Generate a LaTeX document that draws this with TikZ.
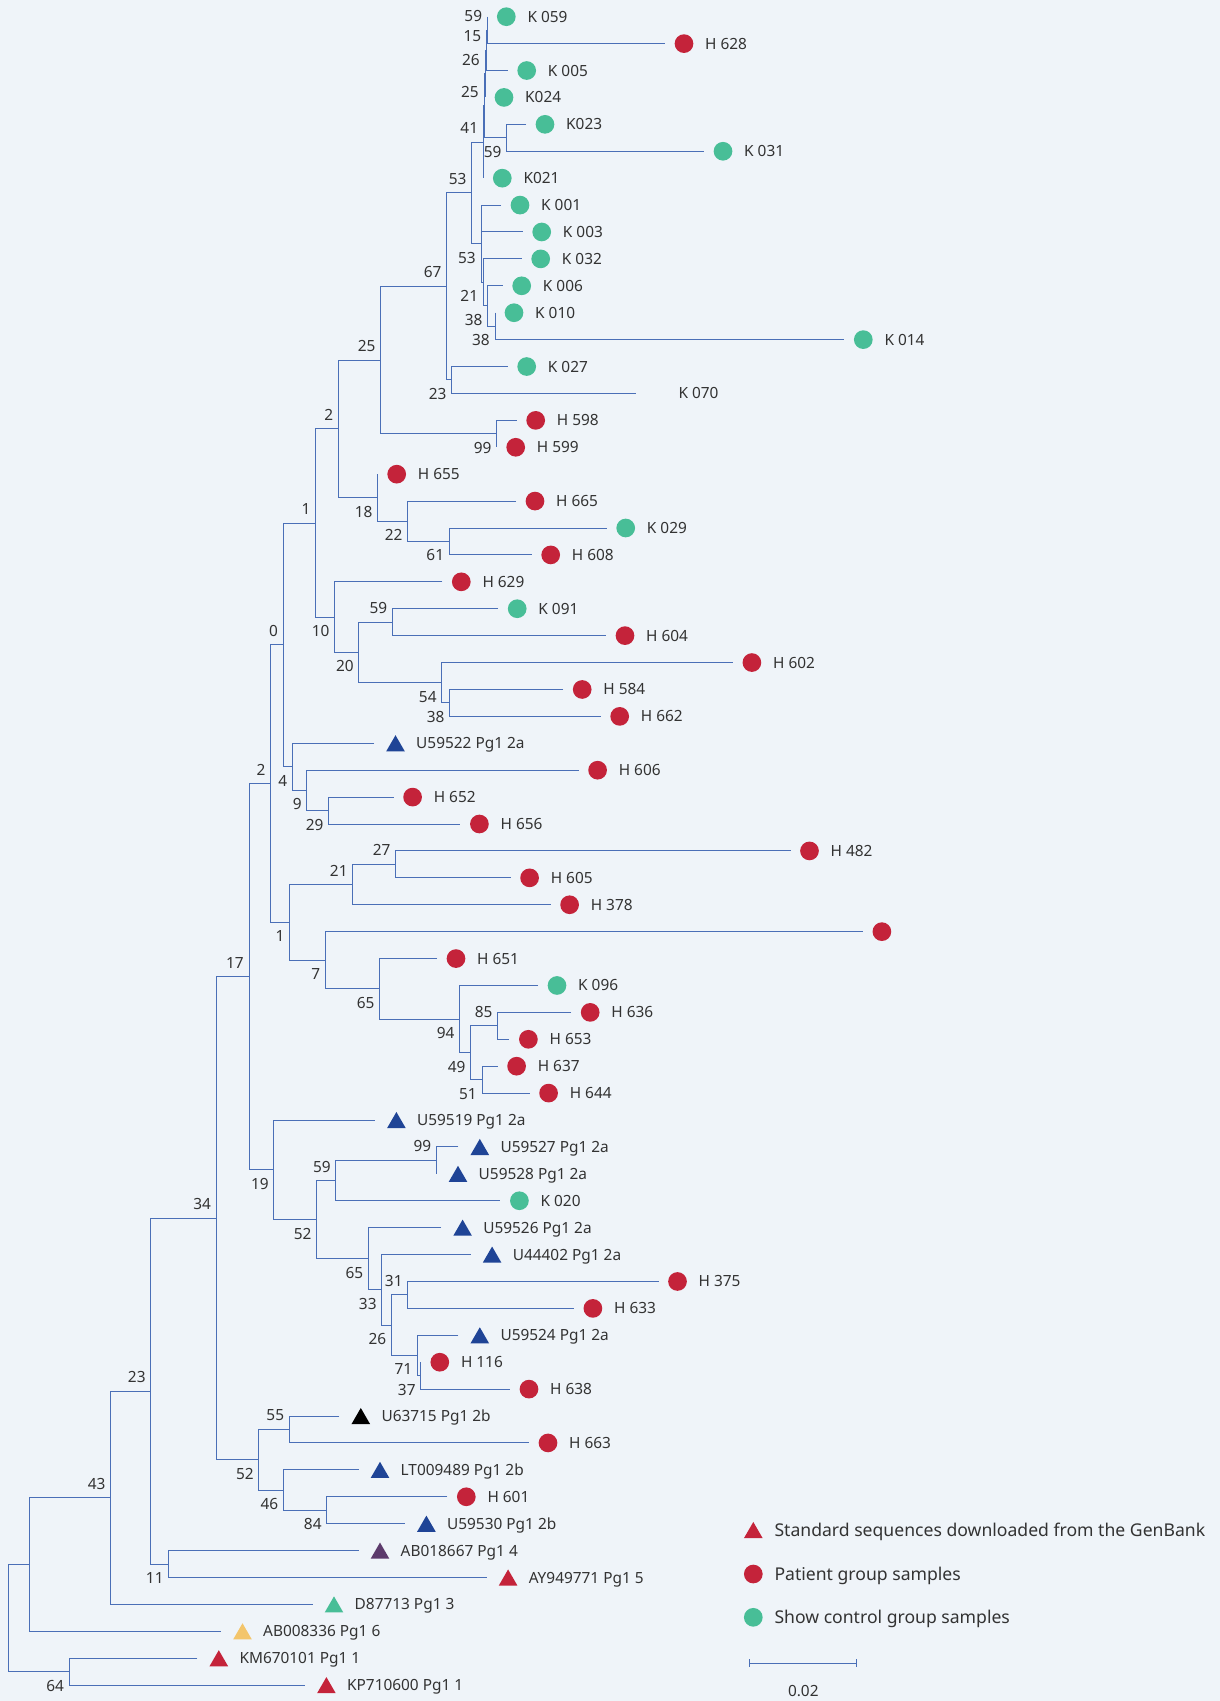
\documentclass[tikz,border=0pt]{standalone}
\usepackage{fontspec}
\setmainfont{Noto Sans}
\usetikzlibrary{calc,shapes.geometric}
\definecolor{bgc}{HTML}{EFF4F9}
\definecolor{brc}{HTML}{4A6FB7}
\definecolor{redc}{HTML}{C4233A}
\definecolor{grnc}{HTML}{48BE97}
\definecolor{bluc}{HTML}{1F4496}
\definecolor{purc}{HTML}{5C3A6C}
\definecolor{yelc}{HTML}{F3C56B}
\definecolor{txtc}{HTML}{333333}
\tikzset{
  br/.style={draw=brc, line width=1pt},
  mkcb/.style={circle, fill=#1, minimum size=18.7pt, inner sep=0pt},
  mktb/.style={regular polygon, regular polygon sides=3, fill=#1, minimum size=21.5pt, inner sep=0pt, yshift=-2.7pt},
  mkc/.style={mkcb=#1, xshift=19pt},
  mkt/.style={mktb=#1, xshift=21.5pt},
  lab/.style={anchor=west, inner sep=0pt, text=txtc, font=\fontsize{15.4pt}{18pt}\selectfont, text height=11pt, text depth=0pt},
  bs/.style={anchor=east, inner sep=0pt, text=txtc, font=\fontsize{15.4pt}{18pt}\selectfont, text height=11pt, text depth=0pt},
  leg/.style={anchor=west, inner sep=0pt, text=txtc, font=\fontsize{17.6pt}{21pt}\selectfont, text height=12.6pt, text depth=0pt},
}
\newcommand\leafC[5]{%
  \coordinate (#1) at (#2,{16.7+26.91*#3});
  \node[mkc=#4] (#1m) at (#1) {};
  \node[lab] (#1t) at ([xshift=40pt]#1) {#5};}
\newcommand\leafT[5]{%
  \coordinate (#1) at (#2,{16.7+26.91*#3});
  \node[mkt=#4] (#1m) at (#1) {};
  \node[lab] (#1t) at ([xshift=42pt]#1) {#5};}
\newcommand\inodeX[4]{%
  \path let \p1=($(#3)!0.5!(#4)$) in coordinate (#1) at (#2pt,\y1);
  \draw[br] (#3) -- (#3 -| #1) -- (#4 -| #1) -- (#4);}
\newcommand\inode[6]{%
  \inodeX{#1}{#2}{#3}{#4}
  \node[bs] (#1b) at ([shift={(-5pt,#6pt)}]#1) {#5};}
\begin{document}
\begin{tikzpicture}[x=1pt,y=-1pt]
\fill[bgc] (0,0) rectangle (1220,1701);
\useasboundingbox (0,0) rectangle (1220,1701);
% leaves
\leafC{L0}{487.3}{0}{grnc}{K 059}
\leafC{L1}{665}{1}{redc}{H 628}
\leafC{L2}{507.7}{2}{grnc}{K 005}
\leafC{L3}{485}{3}{grnc}{K024}
\leafC{L4}{526}{4}{grnc}{K023}
\leafC{L5}{704}{5}{grnc}{K 031}
\leafC{L6}{483.3}{6}{grnc}{K021}
\leafC{L7}{501}{7}{grnc}{K 001}
\leafC{L8}{522.7}{8}{grnc}{K 003}
\leafC{L9}{521.7}{9}{grnc}{K 032}
\leafC{L10}{502.7}{10}{grnc}{K 006}
\leafC{L11}{495}{11}{grnc}{K 010}
\leafC{L12}{844.3}{12}{grnc}{K 014}
\leafC{L13}{507.7}{13}{grnc}{K 027}
\coordinate (L14) at (636,{16.7+26.91*14});
\node[lab] (L14t) at ([xshift=42.3pt]L14) {K 070};
\leafC{L15}{516.7}{15}{redc}{H 598}
\leafC{L16}{496.7}{16}{redc}{H 599}
\leafC{L17}{377.7}{17}{redc}{H 655}
\leafC{L18}{516}{18}{redc}{H 665}
\leafC{L19}{606.7}{19}{grnc}{K 029}
\leafC{L20}{531.7}{20}{redc}{H 608}
\leafC{L21}{442.3}{21}{redc}{H 629}
\leafC{L22}{498.2}{22}{grnc}{K 091}
\leafC{L23}{606}{23}{redc}{H 604}
\leafC{L24}{732.9}{24}{redc}{H 602}
\leafC{L25}{563.2}{25}{redc}{H 584}
\leafC{L26}{600.7}{26}{redc}{H 662}
\leafT{L27}{374}{27}{bluc}{U59522 Pg1 2a}
\leafC{L28}{578.6}{28}{redc}{H 606}
\leafC{L29}{393.6}{29}{redc}{H 652}
\leafC{L30}{460.4}{30}{redc}{H 656}
\leafC{L31}{790.5}{31}{redc}{H 482}
\leafC{L32}{510.6}{32}{redc}{H 605}
\leafC{L33}{550.6}{33}{redc}{H 378}
\coordinate (L34) at (862.9,{16.7+26.91*34});
\node[mkc=redc] (L34m) at (L34) {};
\leafC{L35}{437}{35}{redc}{H 651}
\leafC{L36}{538}{36}{grnc}{K 096}
\leafC{L37}{571.2}{37}{redc}{H 636}
\leafC{L38}{509.4}{38}{redc}{H 653}
\leafC{L39}{497.6}{39}{redc}{H 637}
\leafC{L40}{529.6}{40}{redc}{H 644}
\leafT{L41}{374.9}{41}{bluc}{U59519 Pg1 2a}
\leafT{L42}{458.3}{42}{bluc}{U59527 Pg1 2a}
\leafT{L43}{436.5}{43}{bluc}{U59528 Pg1 2a}
\leafC{L44}{500.4}{44}{grnc}{K 020}
\leafT{L45}{441.1}{45}{bluc}{U59526 Pg1 2a}
\leafT{L46}{470.6}{46}{bluc}{U44402 Pg1 2a}
\leafC{L47}{658.5}{47}{redc}{H 375}
\leafC{L48}{573.9}{48}{redc}{H 633}
\leafT{L49}{458.3}{49}{bluc}{U59524 Pg1 2a}
\leafC{L50}{420.8}{50}{redc}{H 116}
\leafC{L51}{510}{51}{redc}{H 638}
\leafT{L52}{339.3}{52}{black}{U63715 Pg1 2b}
\leafC{L53}{529}{53}{redc}{H 663}
\leafT{L54}{358.5}{54}{bluc}{LT009489 Pg1 2b}
\leafC{L55}{447.3}{55}{redc}{H 601}
\leafT{L56}{404.9}{56}{bluc}{U59530 Pg1 2b}
\leafT{L57}{358.5}{57}{purc}{AB018667 Pg1 4}
\leafT{L58}{486.6}{58}{redc}{AY949771 Pg1 5}
\leafT{L59}{312.5}{59}{grnc}{D87713 Pg1 3}
\leafT{L60}{221}{60}{yelc}{AB008336 Pg1 6}
\leafT{L61}{197.3}{61}{redc}{KM670101 Pg1 1}
\leafT{L62}{304.9}{62}{redc}{KP710600 Pg1 1}
% internal nodes
\inode{t1}{487.3}{L0}{L1}{59}{14}
\inode{t2}{486.5}{t1}{L2}{15}{14}
\inode{t3}{485}{t2}{L3}{26}{14}
\inode{t4}{506.7}{L4}{L5}{59}{-14}
\inode{t5}{484}{t3}{t4}{25}{14}
\inode{t6}{483.3}{t5}{L6}{41}{14}
\inode{n3}{495}{L11}{L12}{38}{-14}
\inode{n2}{487.7}{L10}{n3}{38}{-14}
\inode{n1}{483.3}{L9}{n2}{21}{-14}
\inode{n0}{481}{L7}{n1}{53}{-14}
\draw[br] (L8 -| n0) -- (L8);
\inode{n53}{471.7}{t6}{n0}{53}{14}
\inode{n23}{451.7}{L13}{L14}{23}{-14}
\inode{n67}{446.7}{n53}{n23}{67}{14}
\inode{n99}{496.7}{L15}{L16}{99}{-14}
\inode{n25}{380.7}{n67}{n99}{25}{14}
\inode{n61}{449.3}{L19}{L20}{61}{-14}
\inode{n22}{407.7}{L18}{n61}{22}{-14}
\inode{n18}{377.7}{L17}{n22}{18}{-14}
\inode{n2a}{338.3}{n25}{n18}{2}{14}
\inode{n59b}{392.5}{L22}{L23}{59}{14}
\inode{n38}{449.6}{L25}{L26}{38}{-14}
\inode{n54}{441.8}{L24}{n38}{54}{-14}
\inode{n20}{358.9}{n59b}{n54}{20}{-14}
\inode{n10}{334.6}{L21}{n20}{10}{-14}
\inode{n1a}{315.7}{n2a}{n10}{1}{14}
\inode{n29}{328.6}{L29}{L30}{29}{-14}
\inode{n9}{306.8}{L28}{n29}{9}{-14}
\inode{n4}{292.5}{L27}{n9}{4}{-14}
\inode{n0n}{283.1}{n1a}{n4}{0}{14}
\inode{n27}{395.7}{L31}{L32}{27}{14}
\inode{n21}{352.8}{n27}{L33}{21}{14}
\inode{n51}{482}{L39}{L40}{51}{-14}
\inode{n85}{497.6}{L37}{L38}{85}{14}
\inode{n49}{470.6}{n85}{n51}{49}{-14}
\inode{n94}{459.7}{L36}{n49}{94}{-14}
\inode{n65}{379.7}{L35}{n94}{65}{-14}
\inode{n7}{325.4}{L34}{n65}{7}{-14}
\inode{n1b}{289.7}{n21}{n7}{1}{-14}
\inode{n2b}{270.7}{n0n}{n1b}{2}{14}
\inode{n99b}{436.5}{L42}{L43}{99}{14}
\inode{n59c}{335.9}{n99b}{L44}{59}{14}
\inode{n37}{420.8}{L50}{L51}{37}{-14}
\inode{n71}{417.4}{L49}{n37}{71}{-14}
\inode{n31}{407.8}{L47}{L48}{31}{14}
\inode{n26}{391.4}{n31}{n71}{26}{-14}
\inode{n33}{381.8}{L46}{n26}{33}{-14}
\inode{n65b}{368.4}{L45}{n33}{65}{-14}
\inode{n52}{316.7}{n59c}{n65b}{52}{-14}
\inode{n19}{273.9}{L41}{n52}{19}{-14}
\inode{n17}{249}{n2b}{n19}{17}{14}
\inode{n55}{289.3}{L52}{L53}{55}{14}
\inode{n84}{326.8}{L55}{L56}{84}{-14}
\inode{n46}{283.5}{L54}{n84}{46}{-14}
\inode{n52b}{258.9}{n55}{n46}{52}{-14}
\inode{n34}{216.2}{n17}{n52b}{34}{14}
\inode{n11}{168.8}{L57}{L58}{11}{-14}
\inode{n23b}{150.8}{n34}{n11}{23}{14}
\inode{n43}{110.7}{n23b}{L59}{43}{14}
\inodeX{nx}{29.9}{n43}{L60}
\inode{n64}{69.2}{L61}{L62}{64}{-14}
\inodeX{root}{8.9}{nx}{n64}
% legend
\node[mktb=redc] (lg1m) at (753.3,1530) {};
\node[leg] (lg1t) at (774.3,1530) {Standard sequences downloaded from the GenBank};
\node[mkcb=redc] (lg2m) at (753.3,1574) {};
\node[leg] (lg2t) at (774.3,1574) {Patient group samples};
\node[mkcb=grnc] (lg3m) at (753.3,1617.3) {};
\node[leg] (lg3t) at (774.3,1617.3) {Show control group samples};
% scale bar
\coordinate (sb1) at (749.3,1663.3);
\coordinate (sb2) at (856.7,1663.3);
\draw[br] (sb1) -- (sb2);
\draw[br] ([yshift=4pt]sb1) -- ([yshift=-4pt]sb1);
\draw[br] ([yshift=4pt]sb2) -- ([yshift=-4pt]sb2);
\node[bs, anchor=center] (sbl) at (803.3,1690.7) {0.02};
\end{tikzpicture}
\end{document}
